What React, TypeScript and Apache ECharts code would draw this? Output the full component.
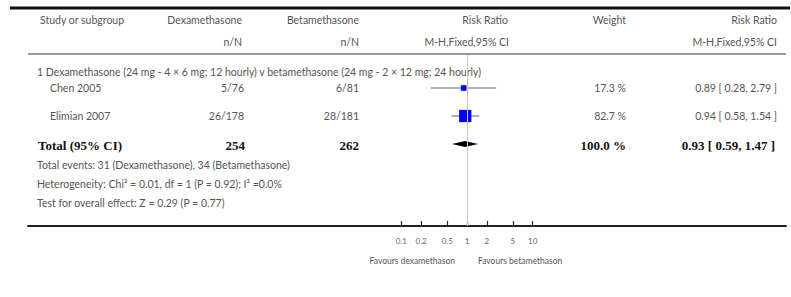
import React, { useEffect, useRef } from "react";
import * as echarts from "echarts";

// ---- data ----
const subgroupTitle =
  "1 Dexamethasone (24 mg - 4 × 6 mg; 12 hourly) v betamethasone (24 mg - 2 × 12 mg; 24 hourly)";
const studies = ["Chen 2005", "Elimian 2007"];
const dexEvents = [5, 26];
const dexTotals = [76, 178];
const betaEvents = [6, 28];
const betaTotals = [81, 181];
const weights = [17.3, 82.7];
const riskRatios = [0.89, 0.94];
const ciLow = [0.28, 0.58];
const ciHigh = [2.79, 1.54];
const totalDex = 254;
const totalBeta = 262;
const totalWeight = 100.0;
const totalRR = 0.93;
const totalLow = 0.59;
const totalHigh = 1.47;
const footerLines = [
  "Total events: 31 (Dexamethasone), 34 (Betamethasone)",
  "Heterogeneity: Chi² = 0.01, df = 1 (P = 0.92); I² =0.0%",
  "Test for overall effect: Z = 0.29 (P = 0.77)",
];
const tickValues = [0.1, 0.2, 0.5, 1, 2, 5, 10];
const favoursLeft = "Favours dexamethason";
const favoursRight = "Favours betamethason";

const FONT = "Lato, 'Open Sans', sans-serif";
const SERIF = "'Liberation Serif', 'DejaVu Serif', serif";
const TXT = "#555";

const fmt2 = (v: number) => v.toFixed(2);

export default function App() {
  const ref = useRef<HTMLDivElement>(null);
  useEffect(() => {
    if (!ref.current) return;
    const chart = echarts.init(ref.current, undefined, { renderer: "svg" });

    const t = (
      text: string,
      x: number,
      y: number,
      align: "left" | "right" | "center" = "left",
      opts: any = {}
    ) => ({
      type: "text",
      x,
      y,
      silent: true,
      style: {
        text,
        fill: opts.fill || TXT,
        font: opts.font || `10.5px ${FONT}`,
        textAlign: align,
        textVerticalAlign: "middle",
      },
    });

    const rowY = [88, 116];
    const graphics: any[] = [
      { type: "rect", shape: { x: 10, y: 6.5, width: 780, height: 3 }, style: { fill: "#111" } },
      { type: "line", shape: { x1: 28, y1: 54, x2: 786, y2: 54 }, style: { stroke: "#333", lineWidth: 1 } },
      t("Study or subgroup", 40, 20),
      t("Dexamethasone", 242, 20, "right"),
      t("Betamethasone", 359, 20, "right"),
      t("Risk Ratio", 508, 20, "right"),
      t("Weight", 626, 20, "right"),
      t("Risk Ratio", 777, 20, "right"),
      t("n/N", 242, 42, "right"),
      t("n/N", 359, 42, "right"),
      t("M-H,Fixed,95% CI", 509, 42, "right"),
      t("M-H,Fixed,95% CI", 777, 42, "right"),
      t(subgroupTitle, 37, 72),
    ];
    studies.forEach((s, i) => {
      const y = rowY[i];
      graphics.push(t(s, 50, y));
      graphics.push(t(`${dexEvents[i]}/${dexTotals[i]}`, 244, y, "right"));
      graphics.push(t(`${betaEvents[i]}/${betaTotals[i]}`, 359, y, "right"));
      graphics.push(t(`${weights[i].toFixed(1)} %`, 626, y, "right"));
      graphics.push(
        t(`${fmt2(riskRatios[i])} [ ${fmt2(ciLow[i])}, ${fmt2(ciHigh[i])} ]`, 777, y, "right")
      );
    });
    const bold = { font: `bold 13px ${SERIF}`, fill: "#111" };
    graphics.push(t("Total (95% CI)", 38, 145, "left", bold));
    graphics.push(t(String(totalDex), 245, 145, "right", bold));
    graphics.push(t(String(totalBeta), 359, 145, "right", bold));
    graphics.push(t(`${totalWeight.toFixed(1)} %`, 626, 145, "right", bold));
    graphics.push(
      t(`${fmt2(totalRR)} [ ${fmt2(totalLow)}, ${fmt2(totalHigh)} ]`, 775, 145, "right", bold)
    );
    footerLines.forEach((l, i) => graphics.push(t(l, 37, [165, 184, 203][i])));
    graphics.push(t(favoursLeft, 455, 261, "right", { font: `8.5px ${FONT}` }));
    graphics.push(t(favoursRight, 478, 261, "left", { font: `8.5px ${FONT}` }));

    const lg = (v: number) => Math.log10(v);
    const studyData = studies.map((_, i) => [
      lg(riskRatios[i]),
      i + 1,
      lg(ciLow[i]),
      lg(ciHigh[i]),
      1.35 * Math.sqrt(weights[i]),
    ]);
    const totalData = [[lg(totalRR), 3, lg(totalLow), lg(totalHigh)]];
    const tickLogs = tickValues.map(lg);

    chart.setOption({
      animation: false,
      graphic: graphics,
      grid: { left: 28, right: 5, top: 55, bottom: 71, outerBoundsMode: "none", containLabel: false },
      xAxis: {
        type: "value",
        position: "bottom",
        min: (28 - 467) / 65.7,
        max: (786 - 467) / 65.7,
        splitLine: { show: false },
        axisLine: { show: true, onZero: false, lineStyle: { color: "#222", width: 2 } },
        axisTick: {
          show: true,
          inside: true,
          length: 5,
          lineStyle: { color: "#222", width: 1.2 },
          customValues: tickLogs,
        },
        axisLabel: {
          customValues: tickLogs,
          margin: 11,
          fontSize: 8,
          fontFamily: FONT,
          color: "#666",
          formatter: (v: number) => {
            let best = tickValues[0];
            tickValues.forEach((tv) => {
              if (Math.abs(lg(tv) - v) < Math.abs(lg(best) - v)) best = tv;
            });
            return String(best);
          },
        },
      },
      yAxis: {
        type: "value",
        inverse: true,
        min: -5 / 28,
        max: 171 / 28 - 5 / 28,
        show: false,
      },
      series: [
        {
          type: "custom",
          data: studyData,
          encode: { x: 0, y: 1 },
          renderItem: (params: any, api: any) => {
            const c = api.coord([api.value(0), api.value(1)]);
            const lo = api.coord([api.value(2), api.value(1)]);
            const hi = api.coord([api.value(3), api.value(1)]);
            const s = api.value(4);
            return {
              type: "group",
              children: [
                {
                  type: "line",
                  shape: { x1: lo[0], y1: lo[1], x2: hi[0], y2: hi[1] },
                  style: { stroke: "#999", lineWidth: 1.5 },
                },
                {
                  type: "rect",
                  shape: { x: c[0] - s / 2, y: c[1] - s / 2, width: s, height: s },
                  style: { fill: "#0000ff" },
                },
              ],
            };
          },
          markLine: {
            silent: true,
            symbol: "none",
            label: { show: false },
            lineStyle: { color: "#c8c8c8", width: 1, type: "solid" },
            data: [{ xAxis: 0 }],
          },
        },
        {
          type: "custom",
          data: totalData,
          encode: { x: 0, y: 1 },
          renderItem: (params: any, api: any) => {
            const c = api.coord([api.value(0), api.value(1)]);
            const lo = api.coord([api.value(2), api.value(1)]);
            const hi = api.coord([api.value(3), api.value(1)]);
            const h = 3;
            return {
              type: "polygon",
              shape: {
                points: [
                  [lo[0], lo[1]],
                  [c[0], c[1] - h],
                  [hi[0], hi[1]],
                  [c[0], c[1] + h],
                ],
              },
              style: { fill: "#000" },
            };
          },
        },
      ],
    });
    return () => chart.dispose();
  }, []);
  return (
    <div
      ref={ref}
      style={{ position: "fixed", left: 0, top: 0, width: 791, height: 297, background: "#fff" }}
    />
  );
}
